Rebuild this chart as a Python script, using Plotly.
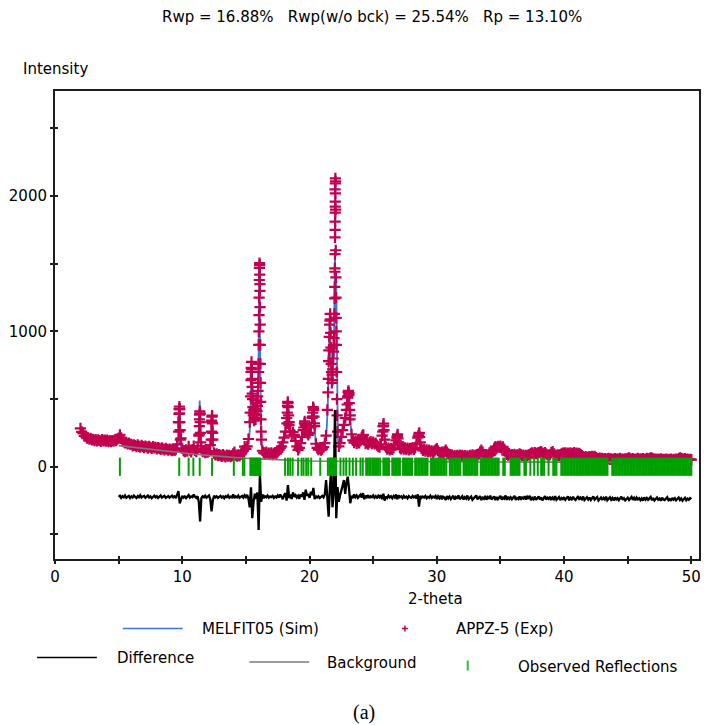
import plotly.graph_objects as go

# ---------------- data ----------------
# Experimental pattern on a regular 2-theta grid (2.0 .. 50.0, step 0.1)
exp_start = 2.0
exp_step = 0.1
exp_counts = [
    284, 258, 249, 228, 226, 211, 214, 203, 209, 198,
    203, 192, 201, 190, 199, 194, 188, 200, 191, 197,
    189, 196, 185, 193, 186, 194, 189, 197, 192, 204,
    212, 236, 214, 190, 184, 176, 180, 168, 175, 166,
    166, 154, 161, 157, 148, 162, 151, 145, 158, 149,
    141, 153, 146, 137, 150, 142, 135, 148, 139, 144,
    132, 141, 135, 128, 139, 131, 125, 136, 129, 122,
    131, 124, 118, 127, 121, 130, 165, 330, 425, 210,
    135, 118, 112, 124, 115, 150, 122, 110, 126, 152,
    120, 112, 130, 230, 390, 150, 112, 118, 104, 110,
    108, 115, 160, 340, 200, 100, 88, 95, 82, 90,
    84, 77, 89, 80, 73, 86, 78, 84, 74, 82,
    95, 108, 86, 78, 88, 80, 92, 105, 118, 148,
    132, 150, 205, 330, 700, 540, 400, 360, 420, 450,
    700, 1350, 260, 118, 104, 96, 108, 92, 100, 94,
    102, 90, 99, 105, 96, 110, 122, 138, 150, 180,
    215, 260, 360, 470, 330, 260, 230, 255, 235, 190,
    150, 125, 140, 175, 220, 270, 320, 295, 250, 235,
    250, 290, 360, 430, 300, 170, 140, 126, 135, 122,
    130, 145, 175, 230, 420, 780, 1080, 760, 640, 900,
    2050, 1000, 260, 150, 175, 220, 270, 310, 360, 420,
    520, 545, 380, 240, 195, 178, 190, 172, 185, 176,
    190, 215, 232, 196, 170, 180, 166, 178, 185, 170,
    182, 168, 175, 160, 150, 145, 165, 230, 300, 200,
    145, 130, 138, 125, 135, 128, 140, 160, 195, 226,
    180, 140, 132, 145, 130, 140, 128, 138, 125, 136,
    130, 142, 128, 140, 165, 215, 244, 180, 135, 120,
    128, 115, 124, 112, 122, 110, 118, 105, 115, 125,
    134, 118, 105, 98, 108, 100, 112, 122, 108, 95,
    88, 80, 86, 74, 82, 72, 84, 76, 86, 78,
    85, 74, 82, 70, 80, 73, 84, 76, 88, 79,
    84, 76, 88, 95, 110, 122, 108, 92, 84, 90,
    82, 92, 86, 98, 115, 135, 148, 140, 150, 145,
    152, 140, 146, 130, 110, 92, 86, 94, 82, 90,
    84, 92, 80, 88, 84, 96, 90, 80, 86, 78,
    84, 80, 88, 92, 98, 102, 94, 104, 96, 100,
    104, 108, 112, 100, 96, 104, 94, 88, 82, 90,
    104, 112, 96, 86, 80, 88, 82, 90, 96, 100,
    98, 102, 94, 100, 96, 103, 95, 99, 104, 96,
    100, 94, 98, 90, 82, 74, 68, 74, 66, 72,
    74, 70, 77, 71, 76, 68, 62, 58, 64, 56,
    62, 55, 60, 53, 58, 62, 54, 59, 52, 57,
    60, 53, 58, 55, 61, 54, 57, 52, 59, 56,
    62, 66, 58, 54, 60, 52, 57, 55, 61, 53,
    58, 54, 60, 52, 57, 62, 55, 60, 66, 63,
    58, 54, 57, 51, 56, 53, 58, 50, 55, 52,
    56, 50, 55, 52, 57, 49, 54, 51, 56, 53,
    60, 66, 62, 58, 55, 60, 52, 56, 50, 54,
    52,
]

# Extra experimental points recorded across the sharp reflections
exp_peak_x = [
    9.72, 9.73, 9.74, 9.75, 9.77, 9.78, 9.79, 9.81, 9.83, 9.85,
    11.33, 11.34, 11.35, 11.36, 11.38, 11.39, 11.41, 11.43, 11.45,
    12.28, 12.30, 12.32, 12.33, 12.35, 12.37, 12.39,
    15.34, 15.37, 15.40, 15.42, 15.44, 15.46, 15.47, 15.49, 15.52, 15.55,
    15.58, 15.62, 15.65, 15.68, 15.73, 15.76, 15.78, 15.83, 15.86, 15.88,
    15.92, 15.95,
    15.97, 15.99, 16.01, 16.02, 16.03, 16.04, 16.05, 16.06, 16.07, 16.08,
    16.09, 16.10, 16.11, 16.12, 16.13, 16.14, 16.15, 16.16, 16.18, 16.22,
    18.22, 18.25, 18.27, 18.29, 18.32, 18.35, 18.38,
    19.55, 19.62, 19.66,
    20.22, 20.25, 20.28, 20.32, 20.35, 20.38,
    21.45, 21.48, 21.52, 21.55, 21.58, 21.62, 21.64, 21.66, 21.68, 21.72,
    21.75, 21.78, 21.82, 21.85, 21.88, 21.92, 21.95,
    21.97, 21.98, 21.99, 21.99, 22.00, 22.00, 22.01, 22.01, 22.02, 22.02,
    22.02, 22.03, 22.03, 22.03, 22.04, 22.05, 22.06, 22.07, 22.08, 22.09,
    22.11, 22.13, 22.15, 22.17,
    22.95, 23.00, 23.03, 23.06, 23.09, 23.12, 23.15, 23.18,
    24.15, 24.22,
    25.75, 25.78, 25.82, 25.85,
    26.86, 26.92, 26.95,
    28.55, 28.62, 28.65,
]
exp_peak_y = [
    260, 330, 390, 425, 445, 430, 395, 330, 270, 200,
    240, 300, 350, 385, 410, 395, 330, 250, 180,
    200, 260, 330, 370, 378, 320, 250,
    400, 520, 640, 730, 775, 720, 650, 590, 500, 440,
    380, 420, 340, 390, 430, 350, 470, 380, 490, 410,
    520, 560,
    620, 760, 900, 1000, 1120, 1250, 1380, 1470, 1505, 1490,
    1420, 1300, 1180, 1050, 900, 760, 620, 480, 350, 200,
    320, 400, 450, 480, 440, 380, 310,
    290, 335, 310,
    370, 400, 440, 420, 370, 320,
    550, 650, 860, 960, 1050, 1130, 1090, 990, 880, 700,
    620, 680, 720, 800, 850, 950, 1130,
    1245, 1330, 1441, 1466, 1572, 1695, 1750, 1811, 1878, 1922,
    1959, 2020, 2094, 2131, 2110, 1900, 1600, 1400, 1250, 1100,
    900, 700, 500, 380,
    460, 510, 550, 560, 530, 470, 420, 350,
    228, 236,
    260, 300, 318, 270,
    215, 240, 210,
    230, 250, 220,
]

# Calculated (simulated) profile
sim_x = [
    5.0, 5.05, 5.1, 5.15, 5.3, 5.6, 6.0, 6.5, 7.0, 7.5, 8.0, 8.5, 9.0, 9.4,
    9.6, 9.68, 9.72, 9.76, 9.80, 9.84, 9.92, 10.1, 10.4, 10.5, 10.6, 10.8,
    10.87, 10.95, 11.2, 11.3, 11.34, 11.37, 11.40, 11.45, 11.55, 11.8, 12.1,
    12.25, 12.31, 12.34, 12.37, 12.42, 12.55, 13.0, 13.5, 14.0, 14.05, 14.1,
    14.5, 14.76, 14.88, 15.0, 15.15, 15.3, 15.38, 15.44, 15.50, 15.56, 15.65,
    15.75, 15.85, 15.95, 16.0, 16.05, 16.09, 16.14, 16.2, 16.3, 17.0, 17.5,
    17.8, 18.0, 18.15, 18.25, 18.3, 18.36, 18.45, 18.6, 18.67, 18.8, 19.0,
    19.1, 19.3, 19.5, 19.6, 19.74, 19.9, 20.0, 20.13, 20.25, 20.3, 20.36,
    20.5, 20.7, 21.0, 21.2, 21.35, 21.44, 21.52, 21.6, 21.66, 21.75, 21.85,
    21.93, 22.0, 22.05, 22.1, 22.15, 22.22, 22.3, 22.45, 22.6, 22.75, 22.88,
    22.98, 23.06, 23.15, 23.3, 23.45, 23.7, 24.0, 24.18, 24.3, 24.6, 25.0,
    25.3, 25.5, 25.7, 25.8, 25.9, 26.1, 26.6, 26.8, 26.9, 27.0, 27.2, 28.0,
    28.4, 28.6, 28.75, 28.9, 29.8, 30.0, 30.3, 30.7, 31.0, 33.2, 33.5, 33.8,
    34.3, 34.6, 35.2, 35.5, 36.5, 37.0, 37.5, 38.2, 38.7, 39.1, 39.4, 39.9,
    41.2, 41.6, 42.5, 43.0, 45.0, 45.5, 46.8, 47.5, 49.0, 50.0,
]
sim_y = [
    195, 205, 225, 205, 188, 172, 160, 154, 146, 142, 134, 130, 125, 122,
    135, 200, 320, 430, 320, 200, 140, 122, 120, 148, 122, 124,
    150, 125, 128, 220, 360, 490, 340, 180, 120, 112, 112,
    170, 300, 397, 290, 150, 95, 84, 80, 86, 102, 88,
    84, 110, 140, 135, 160, 260, 480, 780, 540, 420, 370,
    380, 430, 560, 850, 1490, 1100, 450, 180, 115, 100, 108,
    150, 210, 280, 400, 470, 350, 270, 235, 250, 225, 150,
    130, 180, 270, 320, 290, 240, 250, 300, 400, 440, 330,
    170, 128, 130, 175, 280, 480, 800, 1120, 850, 700, 760,
    1000, 1600, 1100, 1380, 600, 220, 150, 190, 260, 320, 400,
    480, 540, 400, 240, 190, 180, 185, 230, 195, 172, 178,
    160, 148, 220, 300, 200, 135, 135, 190, 226, 175, 138, 134,
    160, 244, 160, 122, 115, 130, 102, 118, 88, 82, 118, 86,
    96, 145, 145, 92, 92, 84, 100, 108, 88, 108, 84, 98,
    96, 70, 70, 57, 62, 56, 62, 54, 62, 53,
]

# Refined background
bkg_x = [5.0, 6.0, 7.0, 8.0, 9.0, 10.0, 11.0, 12.0, 13.0, 14.0, 15.0, 16.0,
         17.0, 18.0, 19.0, 20.0, 22.0, 25.0, 30.0, 35.0, 40.0, 45.0, 50.0]
bkg_y = [156, 145, 134, 122, 111, 101, 92, 84, 76, 69, 63, 58,
         53, 49, 45, 42, 40, 38, 36, 35, 34, 33, 32]

# Difference curve (shifted), 5.0 .. 50.0, step 0.1
diff_start = 5.0
diff_step = 0.1
diff_values = [
    -222, -214, -230, -218, -226, -212, -229, -220, -215, -231,
    -219, -227, -213, -224, -232, -217, -225, -211, -228, -220,
    -216, -230, -221, -213, -227, -219, -233, -222, -214, -226,
    -218, -231, -224, -212, -228, -220, -215, -230, -223, -217,
    -229, -221, -214, -226, -219, -232, -205, -180, -270, -238,
    -215, -228, -220, -232, -217, -210, -228, -219, -225, -205,
    -222, -230, -218, -260, -405, -232, -218, -226, -214, -229,
    -221, -213, -240, -330, -250, -215, -227, -219, -231, -222,
    -216, -228, -220, -233, -218, -225, -212, -229, -221, -226,
    -205, -232, -219, -227, -214, -230, -222, -216, -228, -210,
    -224, -208, -235, -300, -152, -380, -260, -200, -238, -190,
    -468, -50, -260, -205, -232, -218, -226, -213, -229, -220,
    -225, -215, -231, -219, -227, -212, -228, -205, -222, -240,
    -210, -195, -250, -135, -232, -205, -238, -190, -222, -210,
    -228, -215, -236, -205, -222, -190, -245, -170, -215, -200,
    -230, -185, -210, -157, -240, -215, -228, -218, -232, -221,
    -215, -226, -205, -98, -230, -370, -150, -25, -300, -200,
    420, -380, -150, -260, -210, -180, -140, -98, -200, -120,
    -74, -160, -270, -215, -232, -205, -225, -212, -230, -218,
    -207, -228, -195, -240, -214, -226, -210, -232, -219, -225,
    -212, -229, -218, -233, -215, -226, -210, -240, -200, -250,
    -220, -231, -214, -227, -218, -233, -216, -228, -205, -240,
    -212, -226, -219, -232, -215, -228, -221, -234, -217, -226,
    -230, -216, -227, -219, -235, -205, -295, -215, -230, -220,
    -228, -217, -233, -222, -229, -214, -231, -220, -227, -216,
    -238, -219, -233, -214, -241, -222, -228, -245, -217, -234,
    -221, -239, -226, -215, -243, -224, -236, -212, -240, -227,
    -218, -242, -225, -236, -213, -239, -228, -220, -244, -231,
    -224, -212, -241, -226, -218, -246, -229, -237, -216, -243,
    -225, -238, -214, -242, -230, -219, -247, -224, -240, -227,
    -215, -243, -228, -236, -213, -245, -222, -238, -226, -241,
    -229, -216, -246, -231, -239, -220, -244, -227, -235, -218,
    -242, -223, -237, -215, -247, -230, -240, -221, -245, -232,
    -220, -243, -227, -249, -233, -218, -242, -229, -238, -222,
    -246, -228, -240, -217, -244, -233, -224, -247, -231, -239,
    -225, -245, -234, -219, -248, -230, -241, -223, -238, -246,
    -232, -218, -244, -229, -240, -221, -247, -235, -226, -243,
    -228, -246, -236, -220, -243, -231, -224, -249, -237, -227,
    -245, -230, -241, -222, -248, -234, -226, -244, -231, -250,
    -227, -242, -232, -247, -236, -221, -245, -233, -249, -238,
    -229, -246, -235, -223, -244, -230, -248, -228, -241, -233,
    -247, -234, -250, -226, -243, -231, -245, -237, -224, -248,
    -232, -249, -238, -227, -244, -235, -251, -229, -242, -246,
    -236, -225, -247, -239, -252, -230, -243, -233, -249, -237,
    -228, -246, -235, -251, -241, -230, -248, -236, -244, -232,
    -240,
]

# Observed reflection positions (2-theta)
reflections = [
    5.10, 9.76, 10.50, 10.87, 11.37, 12.34, 14.05, 14.76, 14.88,
    15.35, 15.42, 15.50, 15.58, 15.66, 15.74, 15.82, 15.90, 15.98, 16.06, 16.14,
    18.08, 18.30, 18.48, 18.67, 19.10, 19.37, 19.53, 19.74, 19.90, 20.13,
    20.84, 21.44, 21.57, 21.65, 21.73, 21.81, 21.89, 21.97, 22.04, 22.09,
    22.43, 22.67, 22.88, 23.14, 23.40, 23.66, 24.00, 24.18,
    24.45, 24.58, 24.70, 24.79, 24.93, 25.05, 25.16, 25.30, 25.41, 25.55,
    25.80, 25.92, 26.03, 26.15, 26.24, 26.50, 26.62, 26.73, 26.86, 26.97,
    27.10, 27.35, 27.46, 27.58, 27.70, 27.81, 27.94, 28.05, 28.30, 28.42,
    28.55, 28.66, 28.78, 28.90, 29.02, 29.15, 29.27, 29.55, 29.66, 29.78,
    29.89, 30.02, 30.15, 30.26, 30.39, 30.51, 30.62, 30.75, 31.02, 31.13,
    31.25, 31.38, 31.49, 31.60, 31.73, 31.85, 32.10, 32.22, 32.35, 32.46,
    32.58, 32.70, 32.81, 32.94, 33.06, 33.18, 33.45, 33.56, 33.69, 33.80,
    33.93, 34.05, 34.16, 34.28, 34.40, 34.52, 34.63, 34.75, 34.86, 35.22,
    35.34, 35.80, 35.91, 36.03, 36.15, 36.27, 36.38, 36.50, 36.88, 37.00,
    37.35, 37.65, 37.93, 38.20, 38.32, 38.44, 38.78, 39.15, 39.27, 39.40,
    39.78, 39.89, 40.01, 40.13, 40.24, 40.36, 40.48, 40.59, 40.71, 40.83,
    40.95, 41.06, 41.18, 41.30, 41.41, 41.53, 41.65, 41.77, 41.88, 42.00,
    42.12, 42.24, 42.35, 42.47, 42.59, 42.70, 42.82, 42.94, 43.06, 43.18,
    43.30, 43.41, 43.78, 43.89, 44.01, 44.13, 44.25, 44.36, 44.48, 44.60,
    44.72, 44.83, 44.95, 45.07, 45.19, 45.30, 45.42, 45.54, 45.66, 45.77,
    45.89, 46.01, 46.13, 46.24, 46.36, 46.48, 46.60, 46.71, 46.83, 46.95,
    47.07, 47.18, 47.30, 47.42, 47.54, 47.65, 47.77, 47.89, 48.01, 48.12,
    48.24, 48.36, 48.48, 48.59, 48.71, 48.83, 48.95, 49.06, 49.18, 49.30,
    49.42, 49.53, 49.65, 49.77, 49.89, 50.00,
]

x_ticks = [0, 5, 10, 15, 20, 25, 30, 35, 40, 45, 50]
x_tick_text = ["0", "", "10", "", "20", "", "30", "", "40", "", "50"]
y_ticks = [-500, 0, 500, 1000, 1500, 2000, 2500]
y_tick_text = ["", "0", "", "1000", "", "2000", ""]

# ---------------- styling ----------------
FONT = "DejaVu Sans"
FS = 15
C_EXP = "#c2004f"
C_SIM = "#3d79db"
C_BKG = "#7a7a7a"
C_DIFF = "#000000"
C_REF = "#00a000"
AXIS = "#1e1e1e"

W, H = 704, 725
ML, MR, MT, MB = 55, 3, 91, 166
PW, PH = W - ML - MR, H - MT - MB
X_RANGE = [0, 50.6]
Y_RANGE = [-682, 2777]


def fx(px):
    """page x (pixels) -> paper fraction"""
    return (px - ML) / PW


def fy(py):
    """page y (pixels) -> paper fraction"""
    return (H - MB - py) / PH


exp_x = [round(exp_start + i * exp_step, 2) for i in range(len(exp_counts))] + exp_peak_x
exp_y = exp_counts + exp_peak_y
diff_x = [round(diff_start + i * diff_step, 2) for i in range(len(diff_values))]

fig = go.Figure()

fig.add_trace(go.Scatter(
    x=sim_x, y=sim_y, mode="lines", name="MELFIT05 (Sim)",
    line=dict(color=C_SIM, width=1.8), showlegend=False,
))
fig.add_trace(go.Scatter(
    x=exp_x, y=exp_y, mode="markers", name="APPZ-5 (Exp)",
    marker=dict(symbol="cross-thin", size=8, line=dict(color=C_EXP, width=2.2)),
    showlegend=False,
))
fig.add_trace(go.Scatter(
    x=bkg_x, y=bkg_y, mode="lines", name="Background",
    line=dict(color=C_BKG, width=1.6), showlegend=False,
))
fig.add_trace(go.Scatter(
    x=diff_x, y=diff_values, mode="lines", name="Difference",
    line=dict(color=C_DIFF, width=2.3), showlegend=False,
))
fig.add_trace(go.Scatter(
    x=reflections, y=[0] * len(reflections), mode="markers",
    name="Observed Reflections",
    marker=dict(symbol="line-ns", size=13, line=dict(color=C_REF, width=2)),
    showlegend=False,
))
# carrier for the inner half of the crossing tick marks
fig.add_trace(go.Scatter(x=[None], y=[None], xaxis="x2", yaxis="y2",
                         showlegend=False, hoverinfo="skip"))

axis_common = dict(showgrid=False, zeroline=False, ticks="outside", ticklen=3,
                   tickwidth=1.5, tickcolor=AXIS,
                   tickfont=dict(family=FONT, size=FS, color="#000"))

fig.update_layout(
    width=W, height=H,
    margin=dict(l=ML, r=MR, t=MT, b=MB, pad=0),
    paper_bgcolor="white", plot_bgcolor="white",
    font=dict(family=FONT, size=FS, color="#000"),
    xaxis=dict(range=X_RANGE, tickvals=x_ticks, ticktext=x_tick_text,
               showline=True, linecolor=AXIS, linewidth=2, mirror=True,
               **axis_common),
    yaxis=dict(range=Y_RANGE, tickvals=y_ticks, ticktext=y_tick_text,
               showline=True, linecolor=AXIS, linewidth=2, mirror=True,
               **axis_common),
    xaxis2=dict(range=X_RANGE, overlaying="x", anchor="y2", tickvals=x_ticks,
                ticks="inside", ticklen=3, tickwidth=1.5, tickcolor=AXIS,
                showticklabels=False, showline=False, showgrid=False, zeroline=False),
    yaxis2=dict(range=Y_RANGE, overlaying="y", anchor="x2", side="left",
                tickvals=y_ticks, ticks="inside", ticklen=3, tickwidth=1.5,
                tickcolor=AXIS, showticklabels=False, showline=False,
                showgrid=False, zeroline=False),
)

annotations = [
    dict(text="Rwp = 16.88%   Rwp(w/o bck) = 25.54%   Rp = 13.10%", x=373, y=17),
    dict(text="Intensity", x=55, y=69),
    dict(text="2-theta", x=437, y=599),
    dict(text="MELFIT05 (Sim)", x=261, y=629),
    dict(text="APPZ-5 (Exp)", x=506, y=629),
    dict(text="Difference", x=156, y=658),
    dict(text="Background", x=373, y=663),
    dict(text="Observed Reflections", x=600, y=667),
]
for a in annotations:
    fig.add_annotation(
        text=a["text"], x=fx(a["x"]), y=fy(a["y"]), xref="paper", yref="paper",
        xanchor="center", yanchor="middle", showarrow=False,
        font=dict(family=FONT, size=FS, color="#000"),
    )
fig.add_annotation(
    text="(a)", x=fx(365), y=fy(712), xref="paper", yref="paper",
    xanchor="center", yanchor="middle", showarrow=False,
    font=dict(family="Liberation Serif", size=20, color="#000"),
)

# legend keys
def seg(x0, y0, x1, y1, color, width):
    fig.add_shape(type="line", xref="paper", yref="paper",
                  x0=fx(x0), y0=fy(y0), x1=fx(x1), y1=fy(y1),
                  line=dict(color=color, width=width))

seg(123, 628.5, 183, 628.5, C_SIM, 1.5)
seg(403, 628.5, 409, 628.5, C_EXP, 1.5)
seg(406, 625.5, 406, 631.5, C_EXP, 1.5)
seg(37, 657.5, 97, 657.5, C_DIFF, 1.5)
seg(250, 662, 310, 662, C_BKG, 1.5)
seg(469, 660.5, 469, 670.5, "#2fbf2f", 2)

fig.write_html("out.html")
